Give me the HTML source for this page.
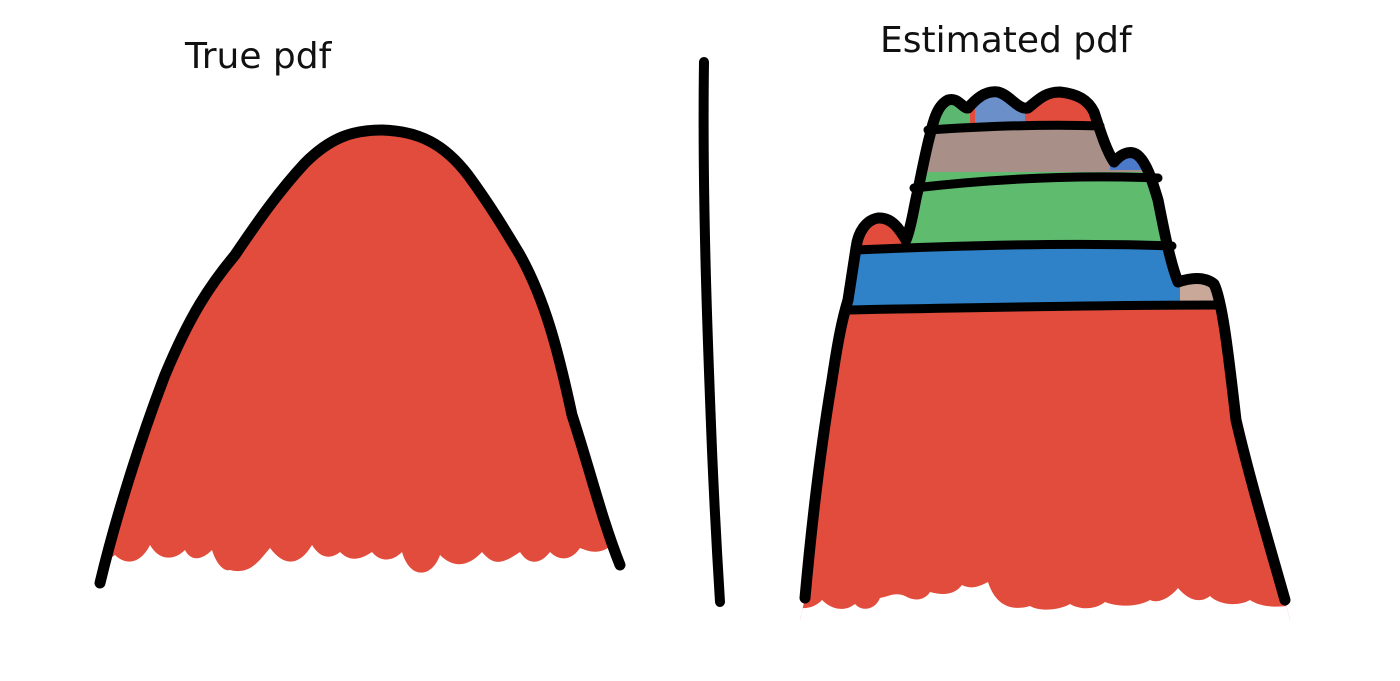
<!DOCTYPE html>
<html>
<head>
<meta charset="utf-8">
<style>
  html,body{margin:0;padding:0;background:#fff;}
  svg{display:block;}
  text{font-family:"DejaVu Sans","Liberation Sans",sans-serif;}
</style>
</head>
<body>
<svg width="1400" height="681" viewBox="0 0 1400 681">
  <defs>
    <clipPath id="estClip">
      <path d="M805,598 C812,520 822,440 832,380 C838,340 842,320 848,300 L856,248 C858,232 866,220 878,218 C892,217 900,230 906,240 C912,225 914,205 918,190 C922,170 926,150 930,135 C934,118 938,105 948,100 C958,97 962,108 968,108 C975,100 985,90 998,92 C1010,95 1018,110 1028,108 C1038,100 1045,92 1060,92 C1078,94 1088,100 1094,112 C1100,130 1106,150 1114,162 C1120,155 1128,150 1136,154 C1146,160 1152,180 1158,200 C1164,230 1170,262 1178,282 C1190,278 1204,276 1214,284 C1222,300 1228,350 1236,420 C1250,480 1268,540 1285,600 L1290,620 L800,620 Z"/>
    </clipPath>
    <clipPath id="trueClip">
      <path d="M100,583 C115,520 140,440 165,375 C190,315 210,285 235,255 C260,218 280,190 305,163 C330,138 352,130 382,130 C420,131 445,145 468,175 C490,205 505,230 520,255 C545,300 558,350 572,415 C590,470 602,520 620,565 L620,600 L100,600 Z"/>
    </clipPath>
  </defs>

  <text x="185" y="68" font-size="36" fill="#111">True pdf</text>
  <text x="880" y="52" font-size="36" fill="#111">Estimated pdf</text>

  <g clip-path="url(#trueClip)">
  <path fill="#e14c3c"
    d="M108,560 L108,100 L612,100 L612,545
       C600,555 590,552 580,548 C572,560 560,562 550,552 C540,565 528,565 520,552 C505,562 495,568 482,552 C470,565 455,570 440,555 C432,578 410,580 402,552 C392,562 380,562 372,552 C360,560 350,562 340,552 C330,560 320,558 312,545 C300,565 285,568 270,548 C258,562 250,575 230,570 C222,572 215,560 212,550 C200,562 190,560 185,550 C175,560 160,562 150,545 C140,565 125,565 115,555 Z"/>
  </g>
  <path fill="none" stroke="#000" stroke-width="11" stroke-linecap="round" stroke-linejoin="round"
    d="M100,583 C115,520 140,440 165,375 C190,315 210,285 235,255 C260,218 280,190 305,163 C330,138 352,130 382,130 C420,131 445,145 468,175 C490,205 505,230 520,255 C545,300 558,350 572,415 C590,470 602,520 620,565"/>

  <path fill="none" stroke="#000" stroke-width="10" stroke-linecap="round"
    d="M704,62 C702,200 708,350 712,450 C715,520 718,570 720,602"/>

  <g clip-path="url(#estClip)">
    <rect x="790" y="80" width="520" height="560" fill="#e14c3c"/>
    <rect x="930" y="95" width="40" height="30" fill="#5cb870"/>
    <rect x="975" y="90" width="50" height="35" fill="#6a8fc9"/>
    <rect x="790" y="125" width="520" height="50" fill="#a89089"/>
    <rect x="1110" y="140" width="50" height="30" fill="#4a7ac9"/>
    <rect x="790" y="172" width="520" height="74" fill="#5fbb6e"/>
    <rect x="840" y="215" width="70" height="33" fill="#e14c3c"/>
    <rect x="790" y="246" width="520" height="62" fill="#2f82c8"/>
    <rect x="1180" y="270" width="60" height="36" fill="#c9a89a"/>
    <path fill="#fff"
      d="M790,640 L790,603 C800,612 815,608 822,600 C832,610 845,612 855,604 C862,612 875,610 880,598 C890,596 895,592 905,596 C915,602 925,600 930,592 C945,596 955,594 962,585 C972,590 980,586 988,582 C995,604 1010,612 1030,606 C1040,612 1060,610 1070,604 C1080,610 1095,610 1105,602 C1120,608 1140,606 1150,600 C1158,604 1170,598 1178,588 C1188,600 1200,604 1210,596 C1220,606 1240,606 1250,600 C1262,608 1280,608 1300,604 L1310,640 Z"/>
  </g>
  <g fill="none" stroke="#000" stroke-width="9" stroke-linecap="round">
    <path d="M846,310 C950,308 1100,305 1220,305"/>
    <path d="M856,250 C950,246 1070,242 1172,246"/>
    <path d="M914,188 C1000,178 1080,175 1158,178"/>
    <path d="M928,130 C990,126 1050,124 1100,126"/>
  </g>
  <path fill="none" stroke="#000" stroke-width="11" stroke-linecap="round" stroke-linejoin="round"
    d="M805,598 C812,520 822,440 832,380 C838,340 842,320 848,300 L856,248 C858,232 866,220 878,218 C892,217 900,230 906,240 C912,225 914,205 918,190 C922,170 926,150 930,135 C934,118 938,105 948,100 C958,97 962,108 968,108 C975,100 985,90 998,92 C1010,95 1018,110 1028,108 C1038,100 1045,92 1060,92 C1078,94 1088,100 1094,112 C1100,130 1106,150 1114,162 C1120,155 1128,150 1136,154 C1146,160 1152,180 1158,200 C1164,230 1170,262 1178,282 C1190,278 1204,276 1214,284 C1222,300 1228,350 1236,420 C1250,480 1268,540 1285,600"/>
</svg>
</body>
</html>
